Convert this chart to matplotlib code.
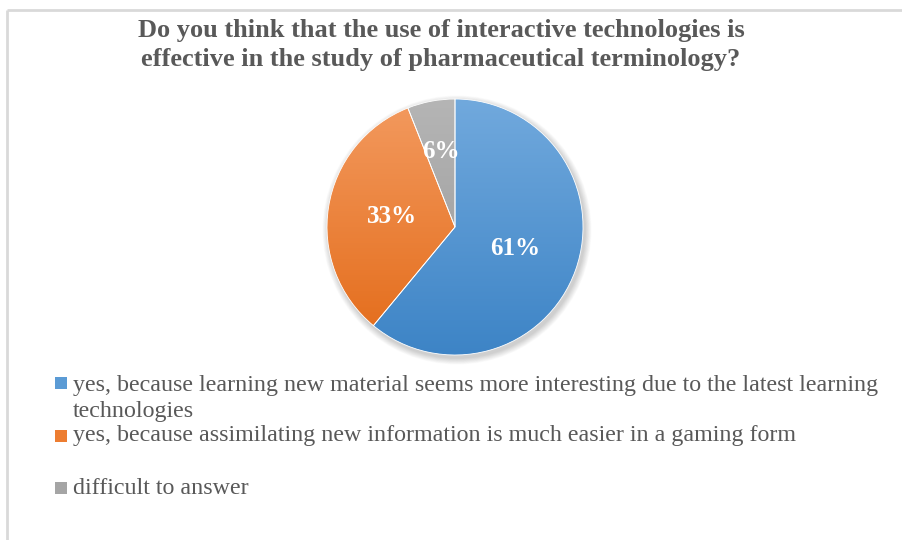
import numpy as np
import matplotlib
matplotlib.use("Agg")
import matplotlib.pyplot as plt
from matplotlib.patches import Rectangle, Circle
from matplotlib.colors import LinearSegmentedColormap

title = "Do you think that the use of interactive technologies is\neffective in the study of pharmaceutical terminology?"
categories = [
    "yes, because learning new material seems more interesting due to the latest learning\ntechnologies",
    "yes, because assimilating new information is much easier in a gaming form",
    "difficult to answer",
]
values = [61, 33, 6]
labels = ["61%", "33%", "6%"]
top_colors = ["#71a9dd", "#f39a5f", "#b5b5b5"]
bottom_colors = ["#3d84c6", "#e36a17", "#979797"]
legend_colors = ["#5b9bd5", "#ed7d31", "#a5a5a5"]

W, H = 902, 540
fig = plt.figure(figsize=(W / 100, H / 100), dpi=100)
ax = fig.add_axes([0, 0, 1, 1])
ax.set_xlim(0, W)
ax.set_ylim(0, H)
ax.axis("off")

serif = ["Liberation Serif", "DejaVu Serif"]
txtcol = "#595959"

# frame lines
ax.plot([7, W + 10], [H - 10, H - 10], color="#d9d9d9", lw=2, solid_capstyle="butt", clip_on=False)
ax.plot([7, 7], [-10, H - 10], color="#d9d9d9", lw=2, solid_capstyle="butt", clip_on=False)

cx, cy, R = 455, H - 227, 128

# soft shadow
for i in range(12):
    ax.add_patch(Circle((cx + 2, cy - 3), R + 0.5 + i * 0.55, color="black",
                        alpha=0.016, lw=0, zorder=1))

wedges, _ = ax.pie(values, startangle=90, counterclock=False, center=(cx, cy),
                   radius=R, colors=["none"] * 3,
                   wedgeprops=dict(linewidth=0.6, edgecolor="white"), frame=False)
ax.set_xlim(0, W)
ax.set_ylim(0, H)
ax.set_aspect("auto")

grad = np.linspace(0, 1, 256).reshape(-1, 1)
for w, tc, bc in zip(wedges, top_colors, bottom_colors):
    cmap = LinearSegmentedColormap.from_list("g", [bc, tc])
    im = ax.imshow(grad, extent=(cx - R, cx + R, cy - R, cy + R), origin="lower",
                   cmap=cmap, aspect="auto", zorder=2, interpolation="bilinear")
    im.set_clip_path(w)
    w.set_zorder(3)

dists = [0.5, 0.5, 0.6]
for w, lab, d in zip(wedges, labels, dists):
    ang = np.deg2rad((w.theta1 + w.theta2) / 2)
    ax.text(cx + d * R * np.cos(ang), cy + d * R * np.sin(ang), lab,
            ha="center", va="center", color="white", fontsize=18,
            fontweight="bold", family=serif, zorder=5)

ax.text(441, H - 45, title, ha="center", va="center", fontsize=19,
        fontweight="bold", family=serif, color=txtcol, linespacing=1.36)

# legend
ys = [H - 383, H - 436, H - 488]
for y, lab, c in zip(ys, categories, legend_colors):
    ax.add_patch(Rectangle((55, y - 6), 12, 12, color=c, lw=0))
    if "\n" in lab:
        ax.text(73, y + 8, lab, ha="left", va="top",
                fontsize=17.25, family=serif, color=txtcol, linespacing=1.29)
    else:
        ax.text(73, y, lab, ha="left", va="center",
                fontsize=17.25, family=serif, color=txtcol)

fig.savefig("out.png", dpi=100)
